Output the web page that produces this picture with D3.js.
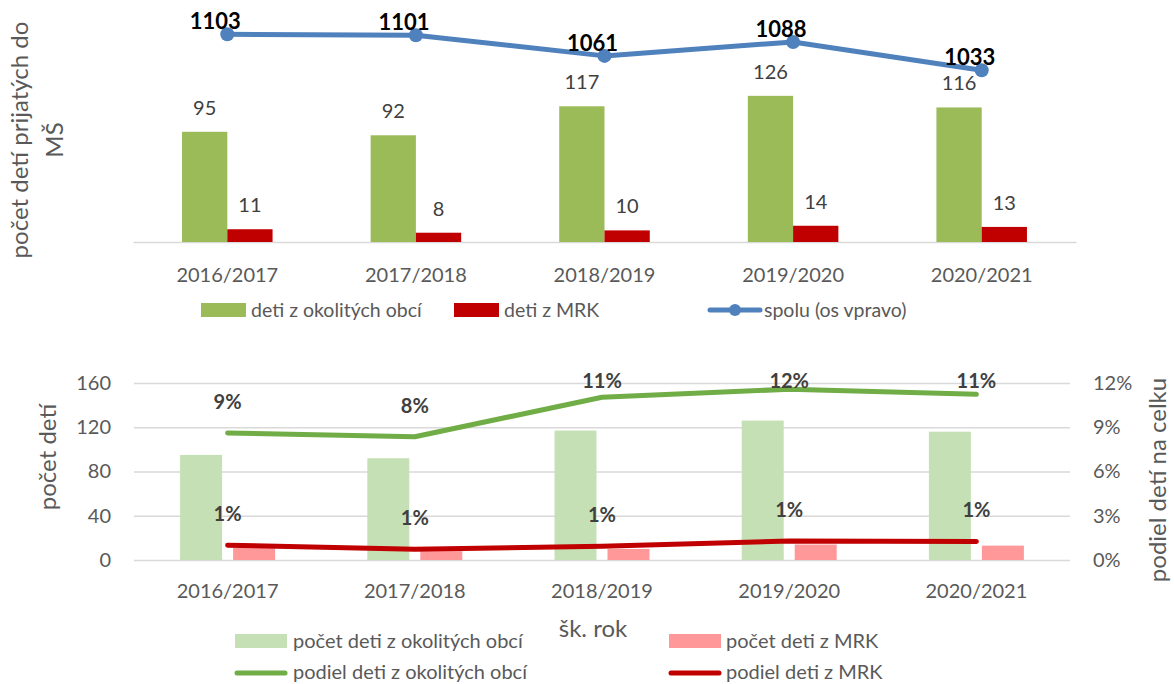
<!DOCTYPE html>
<html>
<head>
<meta charset="utf-8">
<script src="https://cdn.jsdelivr.net/npm/d3@7"></script>
<style>
  body { margin: 0; background: #fff; }
  text { font-family: Lato, "Open Sans", sans-serif; }
</style>
</head>
<body>
<div id="chart"></div>
<script>
//Data
const years = ['2016/2017', '2017/2018', '2018/2019', '2019/2020', '2020/2021'];
const okoliteCounts = [95, 92, 117, 126, 116];
const mrkCounts = [11, 8, 10, 14, 13];
const totals = [1103, 1101, 1061, 1088, 1033];
const okoliteShare = [0.0861, 0.0836, 0.1103, 0.1158, 0.1123];
const mrkShare = [0.0100, 0.0073, 0.0094, 0.0129, 0.0126];
const countTicks = [0, 40, 80, 120, 160];
const shareTicks = [0, 0.03, 0.06, 0.09, 0.12];

//Visual
const width = 1174;
const height = 684;
const axisGrey = '#595959';
const labelGrey = '#404040';
const gridGrey = '#D9D9D9';

const svg = d3.select('#chart')
  .append('svg')
  .attr('width', width)
  .attr('height', height);

// ---------- top chart ----------
const topG = svg.append('g');
const x1 = d3.scaleBand().domain(years).range([133, 1076]);
const y1 = d3.scaleLinear().domain([0, 200]).range([242, 10]);
const y1r = d3.scaleLinear().domain([700, 1150]).range([242, 10]);
const bw1 = x1.bandwidth() * 0.24;
const cx1 = d => x1(d) + x1.bandwidth() / 2;

const xAxis1 = topG.append('g')
  .attr('transform', 'translate(0,242)')
  .call(d3.axisBottom(x1).tickSize(0).tickPadding(26));
xAxis1.select('.domain').attr('stroke', gridGrey).attr('stroke-width', 1.5);
xAxis1.selectAll('text').attr('fill', axisGrey).style('font-size', '20px');

topG.selectAll('rect.okolite')
  .data(okoliteCounts)
  .enter()
  .append('rect')
  .attr('x', (d, i) => cx1(years[i]) - bw1)
  .attr('y', d => y1(d))
  .attr('width', bw1)
  .attr('height', d => y1(0) - y1(d))
  .attr('fill', '#9BBB59');

topG.selectAll('rect.mrk')
  .data(mrkCounts)
  .enter()
  .append('rect')
  .attr('x', (d, i) => cx1(years[i]))
  .attr('y', d => y1(d))
  .attr('width', bw1)
  .attr('height', d => y1(0) - y1(d))
  .attr('fill', '#C00000');

topG.selectAll('text.okl')
  .data(okoliteCounts)
  .enter()
  .append('text')
  .text(d => d)
  .attr('x', (d, i) => cx1(years[i]) - bw1 / 2)
  .attr('y', d => y1(d) - 17)
  .attr('text-anchor', 'middle')
  .attr('fill', labelGrey)
  .style('font-size', '20px');

topG.selectAll('text.mrkl')
  .data(mrkCounts)
  .enter()
  .append('text')
  .text(d => d)
  .attr('x', (d, i) => cx1(years[i]) + bw1 / 2)
  .attr('y', d => y1(d) - 17)
  .attr('text-anchor', 'middle')
  .attr('fill', labelGrey)
  .style('font-size', '20px');

const totalLine = d3.line()
  .x((d, i) => cx1(years[i]))
  .y(d => y1r(d));

topG.append('path')
  .datum(totals)
  .attr('d', totalLine)
  .attr('fill', 'none')
  .attr('stroke', '#4F81BD')
  .attr('stroke-width', 5)
  .attr('stroke-linejoin', 'round');

topG.selectAll('circle')
  .data(totals)
  .enter()
  .append('circle')
  .attr('cx', (d, i) => cx1(years[i]))
  .attr('cy', d => y1r(d))
  .attr('r', 7)
  .attr('fill', '#4F81BD');

topG.selectAll('text.tot')
  .data(totals)
  .enter()
  .append('text')
  .text(d => d)
  .attr('x', (d, i) => cx1(years[i]) - 12)
  .attr('y', d => y1r(d) - 5)
  .attr('text-anchor', 'middle')
  .attr('fill', '#000')
  .style('font-size', '22px')
  .style('font-weight', 'bold');

const title1 = topG.append('text')
  .attr('transform', 'translate(28,140) rotate(-90)')
  .attr('text-anchor', 'middle')
  .attr('fill', axisGrey)
  .style('font-size', '24px');
title1.append('tspan').attr('x', 0).attr('dy', 0).text('počet detí prijatých do');
title1.append('tspan').attr('x', 0).attr('dy', 35).text('MŠ');

// top legend
const leg1 = topG.append('g');
leg1.append('rect').attr('x', 201).attr('y', 303).attr('width', 45).attr('height', 14).attr('fill', '#9BBB59');
leg1.append('text').attr('x', 251).attr('y', 317).text('deti z okolitých obcí');
leg1.append('rect').attr('x', 454).attr('y', 303).attr('width', 45).attr('height', 14).attr('fill', '#C00000');
leg1.append('text').attr('x', 504).attr('y', 317).text('deti z MRK');
leg1.append('line').attr('x1', 710).attr('x2', 760).attr('y1', 310).attr('y2', 310)
  .attr('stroke', '#4F81BD').attr('stroke-width', 5).attr('stroke-linecap', 'round');
leg1.append('circle').attr('cx', 735).attr('cy', 310).attr('r', 6).attr('fill', '#4F81BD');
leg1.append('text').attr('x', 764).attr('y', 317).text('spolu (os vpravo)');
leg1.selectAll('text').attr('fill', axisGrey).style('font-size', '19.5px');

// ---------- bottom chart ----------
const botG = svg.append('g');
const x2 = d3.scaleBand().domain(years).range([134, 1070]);
const y2 = d3.scaleLinear().domain([0, 160]).range([560, 383]);
const y2r = d3.scaleLinear().domain([0, 0.12]).range([560, 383]);
const bw2 = 42;
const gap2 = 5.5;
const cx2 = d => x2(d) + x2.bandwidth() / 2;

const yAxis2 = botG.append('g')
  .attr('transform', 'translate(134,0)')
  .call(d3.axisLeft(y2).tickValues(countTicks).tickSize(-936).tickPadding(23));
yAxis2.select('.domain').remove();
yAxis2.selectAll('line').attr('stroke', gridGrey).attr('stroke-width', 1.5);
yAxis2.selectAll('text').attr('fill', axisGrey).style('font-size', '20px');

const yAxis2r = botG.append('g')
  .attr('transform', 'translate(1070,0)')
  .call(d3.axisRight(y2r).tickValues(shareTicks).tickSize(0).tickPadding(23).tickFormat(d3.format('.0%')));
yAxis2r.select('.domain').remove();
yAxis2r.selectAll('text').attr('fill', axisGrey).style('font-size', '20px');

const xAxis2 = botG.append('g')
  .attr('transform', 'translate(0,560)')
  .call(d3.axisBottom(x2).tickSize(0).tickPadding(24));
xAxis2.select('.domain').remove();
xAxis2.selectAll('text').attr('fill', axisGrey).style('font-size', '20px');

botG.selectAll('rect.okolite')
  .data(okoliteCounts)
  .enter()
  .append('rect')
  .attr('x', (d, i) => cx2(years[i]) - gap2 - bw2)
  .attr('y', d => y2(d))
  .attr('width', bw2)
  .attr('height', d => y2(0) - y2(d))
  .attr('fill', '#C5E0B4');

botG.selectAll('rect.mrk')
  .data(mrkCounts)
  .enter()
  .append('rect')
  .attr('x', (d, i) => cx2(years[i]) + gap2)
  .attr('y', d => y2(d))
  .attr('width', bw2)
  .attr('height', d => y2(0) - y2(d))
  .attr('fill', '#FF9999');

const shareLine = d3.line()
  .x((d, i) => cx2(years[i]))
  .y(d => y2r(d));

[[okoliteShare, '#70AD47'], [mrkShare, '#C00000']].forEach(([series, color]) => {
  botG.append('path')
    .datum(series)
    .attr('d', shareLine)
    .attr('fill', 'none')
    .attr('stroke', color)
    .attr('stroke-width', 5)
    .attr('stroke-linecap', 'round')
    .attr('stroke-linejoin', 'round');

  botG.selectAll(null)
    .data(series)
    .enter()
    .append('text')
    .text(d => Math.round(d * 100) + '%')
    .attr('x', (d, i) => cx2(years[i]))
    .attr('y', d => Math.max(y2r(d) - 24, 388))
    .attr('text-anchor', 'middle')
    .attr('fill', labelGrey)
    .style('font-size', '20px')
    .style('font-weight', 'bold');
});

botG.append('text')
  .attr('transform', 'translate(56,457) rotate(-90)')
  .attr('text-anchor', 'middle')
  .attr('fill', axisGrey)
  .style('font-size', '24px')
  .text('počet detí');

botG.append('text')
  .attr('transform', 'translate(1166,480) rotate(-90)')
  .attr('text-anchor', 'middle')
  .attr('fill', axisGrey)
  .style('font-size', '24px')
  .text('podiel detí na celku');

botG.append('text')
  .attr('x', 593)
  .attr('y', 637)
  .attr('text-anchor', 'middle')
  .attr('fill', axisGrey)
  .style('font-size', '24px')
  .text('šk. rok');

// bottom legend
const leg2 = botG.append('g');
leg2.append('rect').attr('x', 235).attr('y', 634).attr('width', 52).attr('height', 14).attr('fill', '#C5E0B4');
leg2.append('text').attr('x', 293).attr('y', 648).text('počet deti z okolitých obcí');
leg2.append('rect').attr('x', 669).attr('y', 634).attr('width', 52).attr('height', 14).attr('fill', '#FF9999');
leg2.append('text').attr('x', 726).attr('y', 648).text('počet deti z MRK');
leg2.append('line').attr('x1', 237).attr('x2', 285).attr('y1', 673).attr('y2', 673)
  .attr('stroke', '#70AD47').attr('stroke-width', 5).attr('stroke-linecap', 'round');
leg2.append('text').attr('x', 293).attr('y', 679).text('podiel deti z okolitých obcí');
leg2.append('line').attr('x1', 671).attr('x2', 719).attr('y1', 673).attr('y2', 673)
  .attr('stroke', '#C00000').attr('stroke-width', 5).attr('stroke-linecap', 'round');
leg2.append('text').attr('x', 726).attr('y', 679).text('podiel deti z MRK');
leg2.selectAll('text').attr('fill', axisGrey).style('font-size', '20px');
</script>
</body>
</html>
